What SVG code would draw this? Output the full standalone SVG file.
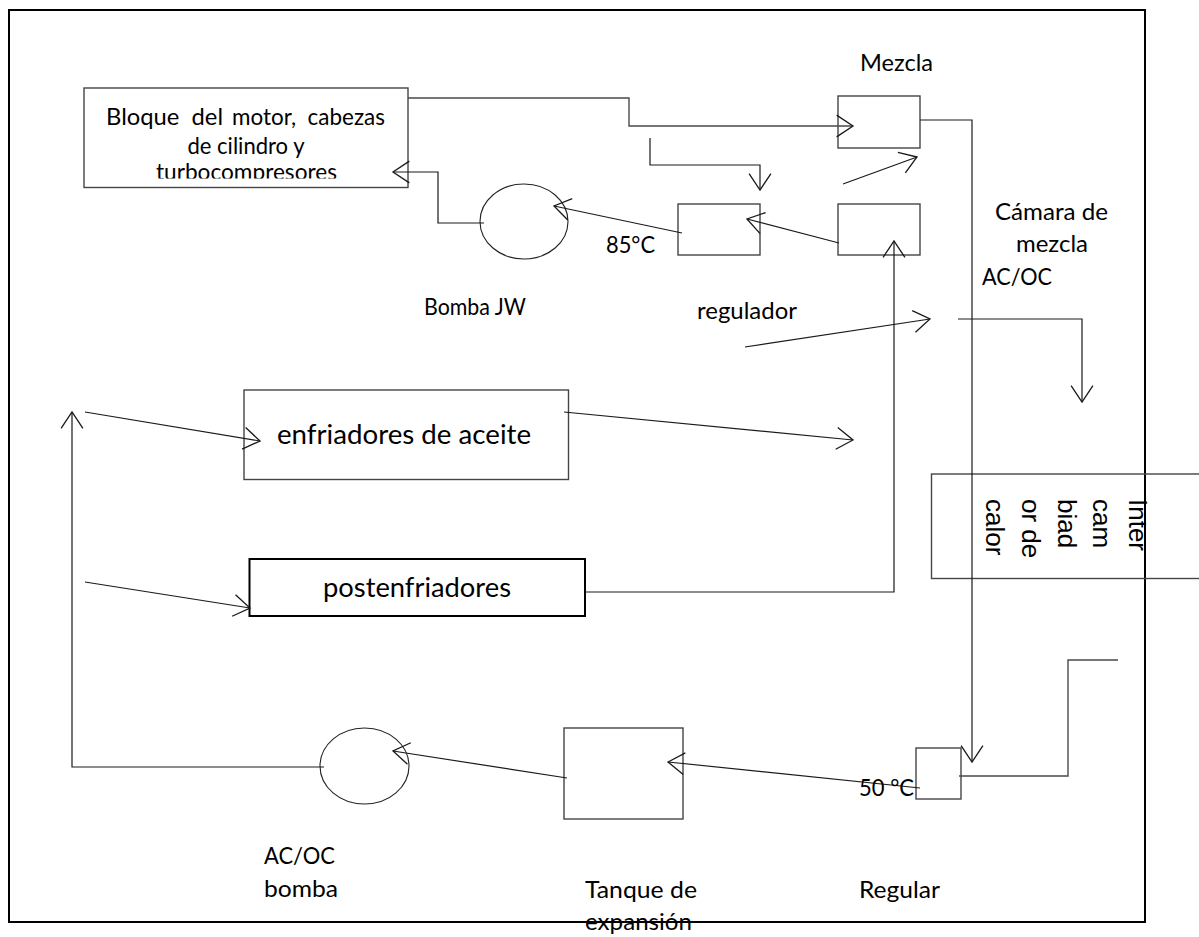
<svg xmlns="http://www.w3.org/2000/svg" width="1199" height="937" viewBox="0 0 1199 937">
  <style>
    .frame { fill: none; stroke: #000; stroke-width: 2; }
    .box { fill: none; stroke: #454545; stroke-width: 1.4; }
    .box-bold { fill: none; stroke: #000; stroke-width: 2; }
    .pump { fill: none; stroke: #222; stroke-width: 1.1; }
    .wire { fill: none; stroke: #1a1a1a; stroke-width: 1.2; }
    .wire-grey { fill: none; stroke: #4a4a4a; stroke-width: 1.4; }
    .lbl { font-family: Lato, "Open Sans", "Liberation Sans", sans-serif; font-size: 24px; fill: #000; }
    .lbl-big { font-family: Lato, "Open Sans", "Liberation Sans", sans-serif; font-size: 27px; fill: #000; }
    .lbl-rot { font-family: "Liberation Sans", Arial, sans-serif; font-size: 26px; fill: #000; }
  </style>
  <defs>
    <marker id="chev" markerUnits="userSpaceOnUse" markerWidth="20" markerHeight="24" viewBox="-1 -11 18 22" refX="15" refY="0" orient="auto">
      <path d="M0,-10 L15,0 L0,10" fill="none" stroke="#1a1a1a" stroke-width="1.2"/>
    </marker>
    <clipPath id="engineClip">
      <rect x="84" y="88" width="324" height="90.5"/>
    </clipPath>
  </defs>

  <rect width="1199" height="937" fill="#fff"/>

  <!-- outer frame -->
  <rect class="frame" x="9" y="10" width="1136" height="912"/>

  <!-- engine block -->
  <g id="engine">
    <rect class="box" x="84" y="88" width="324" height="99.5"/>
    <g clip-path="url(#engineClip)">
      <text class="lbl" x="106" y="125" xml:space="preserve" textLength="117" lengthAdjust="spacingAndGlyphs">Bloque  del</text>
      <text class="lbl" x="232" y="125" font-size="22" xml:space="preserve" textLength="153" lengthAdjust="spacingAndGlyphs">motor,  cabezas</text>
      <text class="lbl" x="246" y="154" font-size="22" text-anchor="middle" textLength="117" lengthAdjust="spacingAndGlyphs">de cilindro y</text>
      <text class="lbl" x="156" y="180" font-size="22" textLength="181" lengthAdjust="spacingAndGlyphs">turbocompresores</text>
    </g>
  </g>

  <!-- mixing valve -->
  <g id="mezcla">
    <rect class="box" x="838" y="96" width="82" height="52"/>
    <text class="lbl" x="860" y="71" textLength="73" lengthAdjust="spacingAndGlyphs">Mezcla</text>
  </g>

  <!-- regulator (upper) -->
  <g id="regulador">
    <rect class="box" x="678" y="204" width="82" height="51"/>
    <text class="lbl" x="697" y="319" textLength="100" lengthAdjust="spacingAndGlyphs">regulador</text>
    <text class="lbl" x="606" y="253" textLength="49" lengthAdjust="spacingAndGlyphs">85°C</text>
  </g>

  <!-- mixing chamber -->
  <g id="camara">
    <rect class="box" x="838" y="204" width="82" height="51"/>
    <text class="lbl" x="995" y="220" textLength="113" lengthAdjust="spacingAndGlyphs">Cámara de</text>
    <text class="lbl" x="1016" y="252" textLength="72" lengthAdjust="spacingAndGlyphs">mezcla</text>
    <text class="lbl" x="982" y="285" textLength="70" lengthAdjust="spacingAndGlyphs">AC/OC</text>
  </g>

  <!-- jacket water pump -->
  <g id="bomba-jw">
    <ellipse class="pump" cx="524" cy="221.5" rx="44" ry="37.5"/>
    <text class="lbl" x="424" y="315" textLength="102" lengthAdjust="spacingAndGlyphs">Bomba JW</text>
  </g>

  <!-- oil coolers -->
  <g id="enfriadores">
    <rect class="box" x="244" y="390" width="324.5" height="89.5"/>
    <text class="lbl-big" x="277" y="444" textLength="254" lengthAdjust="spacingAndGlyphs">enfriadores de aceite</text>
  </g>

  <!-- aftercoolers -->
  <g id="postenfriadores">
    <rect class="box-bold" x="249.5" y="559" width="335.5" height="57"/>
    <text class="lbl-big" x="323" y="597" textLength="188" lengthAdjust="spacingAndGlyphs">postenfriadores</text>
  </g>

  <!-- heat exchanger -->
  <g id="intercambiador">
    <rect class="box" x="931.5" y="474" width="320" height="104.5"/>
    <text class="lbl-rot" transform="translate(1129 499) rotate(90)">Inter</text>
    <text class="lbl-rot" transform="translate(1093.25 499) rotate(90)">cam</text>
    <text class="lbl-rot" transform="translate(1057.5 499) rotate(90)">biad</text>
    <text class="lbl-rot" transform="translate(1021.75 499) rotate(90)">or de</text>
    <text class="lbl-rot" transform="translate(986 499) rotate(90)">calor</text>
  </g>

  <!-- lower regulator -->
  <g id="regular">
    <rect class="box" x="916" y="748" width="45" height="51"/>
    <text class="lbl" x="859" y="898" textLength="81" lengthAdjust="spacingAndGlyphs">Regular</text>
  </g>

  <!-- expansion tank -->
  <g id="tanque">
    <rect class="box" x="564" y="728" width="119" height="91"/>
    <text class="lbl" x="585" y="898" textLength="112" lengthAdjust="spacingAndGlyphs">Tanque de</text>
    <text class="lbl" x="585" y="930" textLength="107" lengthAdjust="spacingAndGlyphs">expansión</text>
  </g>

  <!-- AC/OC pump -->
  <g id="bomba-acoc">
    <ellipse class="pump" cx="364.5" cy="766" rx="44.5" ry="38"/>
    <text class="lbl" x="264" y="864" textLength="71" lengthAdjust="spacingAndGlyphs">AC/OC</text>
    <text class="lbl" x="264" y="897" textLength="74" lengthAdjust="spacingAndGlyphs">bomba</text>
  </g>

  <!-- piping -->
  <g id="connectors">
    <polyline class="wire-grey" points="408,98 629,98 629,126 853,126" marker-end="url(#chev)"/>
    <polyline class="wire" points="650,138 650,165 760,165 760,190" marker-end="url(#chev)"/>
    <line class="wire" x1="843" y1="184" x2="917" y2="157" marker-end="url(#chev)"/>
    <line class="wire" x1="839" y1="243" x2="747" y2="219" marker-end="url(#chev)"/>
    <line class="wire" x1="682" y1="233" x2="554" y2="206" marker-end="url(#chev)"/>
    <polyline class="wire" points="484,223 438,223 438,172 393,172" marker-end="url(#chev)"/>
    <polyline class="wire" points="920,120 972,120 972,762" marker-end="url(#chev)"/>
    <line class="wire" x1="745" y1="347" x2="930" y2="319" marker-end="url(#chev)"/>
    <polyline class="wire" points="958,319 1082,319 1082,402" marker-end="url(#chev)"/>
    <line class="wire" x1="85" y1="412" x2="260" y2="441" marker-end="url(#chev)"/>
    <line class="wire" x1="564" y1="412" x2="853" y2="440" marker-end="url(#chev)"/>
    <line class="wire" x1="85" y1="582" x2="250" y2="608" marker-end="url(#chev)"/>
    <polyline class="wire" points="585,592 894,592 894,241" marker-end="url(#chev)"/>
    <polyline class="wire-grey" points="959,776 1068,776 1068,660 1118,660"/>
    <line class="wire" x1="920" y1="788" x2="668" y2="762" marker-end="url(#chev)"/>
    <line class="wire" x1="567" y1="778" x2="393" y2="751" marker-end="url(#chev)"/>
    <polyline class="wire" points="324,767 72,767 72,412" marker-end="url(#chev)"/>
  </g>

  <text class="lbl" x="859" y="796" textLength="55" lengthAdjust="spacingAndGlyphs">50 °C</text>
</svg>
